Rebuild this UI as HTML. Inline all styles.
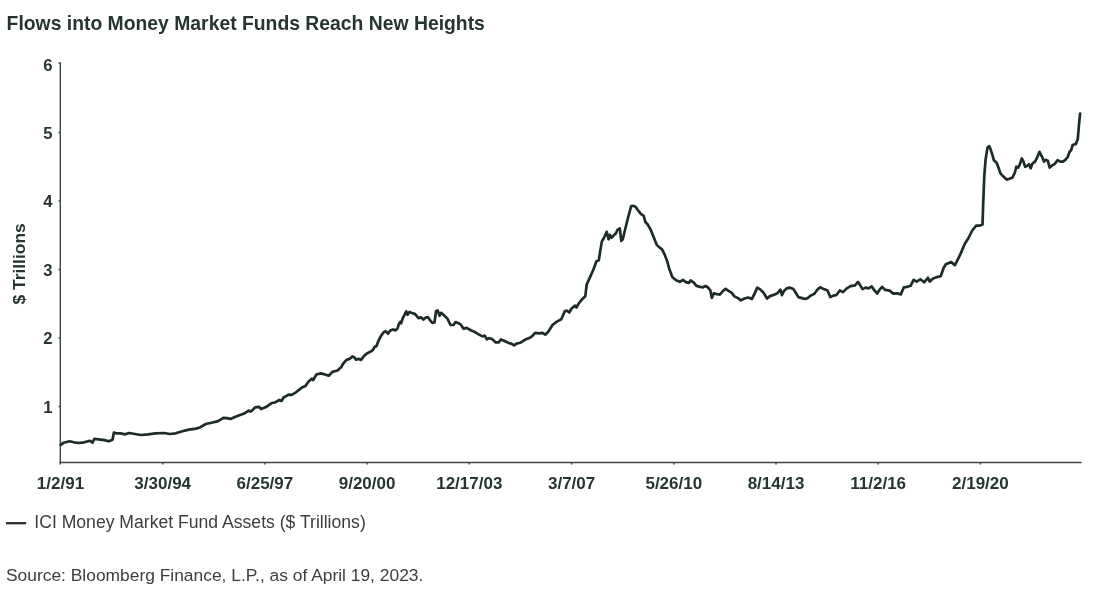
<!DOCTYPE html>
<html><head><meta charset="utf-8"><style>
html,body{margin:0;padding:0;background:#fff;}
body{width:1100px;height:599px;overflow:hidden;position:relative;font-family:"Liberation Sans",Arial,sans-serif;}
svg{position:absolute;left:0;top:0;will-change:transform;}
</style></head><body>
<svg width="1100" height="599" viewBox="0 0 1100 599">
<text x="6.6" y="29.5" font-size="19.35" font-weight="bold" fill="#26352f">Flows into Money Market Funds Reach New Heights</text>
<g font-size="16.6" font-weight="bold" fill="#26352f">
<text x="52.5" y="70.6" text-anchor="end">6</text>
<text x="52.5" y="139.1" text-anchor="end">5</text>
<text x="52.5" y="207.4" text-anchor="end">4</text>
<text x="52.5" y="275.8" text-anchor="end">3</text>
<text x="52.5" y="344.3" text-anchor="end">2</text>
<text x="52.5" y="412.6" text-anchor="end">1</text>
<text x="60.5" y="489.0" text-anchor="middle" font-size="17">1/2/91</text>
<text x="162.7" y="489.0" text-anchor="middle" font-size="17">3/30/94</text>
<text x="264.9" y="489.0" text-anchor="middle" font-size="17">6/25/97</text>
<text x="367.1" y="489.0" text-anchor="middle" font-size="17">9/20/00</text>
<text x="469.3" y="489.0" text-anchor="middle" font-size="17">12/17/03</text>
<text x="571.6" y="489.0" text-anchor="middle" font-size="17">3/7/07</text>
<text x="673.8" y="489.0" text-anchor="middle" font-size="17">5/26/10</text>
<text x="776.0" y="489.0" text-anchor="middle" font-size="17">8/14/13</text>
<text x="878.2" y="489.0" text-anchor="middle" font-size="17">11/2/16</text>
<text x="980.4" y="489.0" text-anchor="middle" font-size="17">2/19/20</text>
</g>
<text transform="translate(25.4,263.9) rotate(-90) scale(1.09,1)" text-anchor="middle" font-size="16" font-weight="bold" fill="#26352f">$ Trillions</text>
<g stroke="#3d4340" stroke-width="1.4" fill="none">
<line x1="60.3" y1="62.5" x2="60.3" y2="464.5"/>
<line x1="59.6" y1="462.5" x2="1081.6" y2="462.5"/>
<line x1="58.5" y1="63.0" x2="60.5" y2="63.0"/>
<line x1="58.5" y1="132.5" x2="60.5" y2="132.5"/>
<line x1="58.5" y1="201.0" x2="60.5" y2="201.0"/>
<line x1="58.5" y1="269.5" x2="60.5" y2="269.5"/>
<line x1="58.5" y1="338.0" x2="60.5" y2="338.0"/>
<line x1="58.5" y1="406.5" x2="60.5" y2="406.5"/>
<line x1="162.7" y1="462.5" x2="162.7" y2="464.5"/>
<line x1="264.9" y1="462.5" x2="264.9" y2="464.5"/>
<line x1="367.1" y1="462.5" x2="367.1" y2="464.5"/>
<line x1="469.3" y1="462.5" x2="469.3" y2="464.5"/>
<line x1="571.6" y1="462.5" x2="571.6" y2="464.5"/>
<line x1="673.8" y1="462.5" x2="673.8" y2="464.5"/>
<line x1="776.0" y1="462.5" x2="776.0" y2="464.5"/>
<line x1="878.2" y1="462.5" x2="878.2" y2="464.5"/>
<line x1="980.4" y1="462.5" x2="980.4" y2="464.5"/>
</g>
<polyline points="60.8,444.9 63.7,442.7 69.5,441.3 73.9,442.3 79,443 84.1,442.3 89.9,440.8 92.5,442.7 94.3,438.8 98.6,439.4 104.5,440.1 108.8,441.3 112.5,439.8 113.9,432.5 116.1,433.3 120.5,433.3 124.8,434.4 129.2,433 135,434 140.8,435 148.1,434.4 155.4,433.3 164.1,433 169.9,434 175.7,433.3 181.5,431.5 188.8,429.6 196.1,428.6 200.5,427.2 205.8,424 211.6,422.8 218.2,421.1 223.3,417.9 226.9,418.2 230.5,418.9 234.9,417 240,415 243.6,413.8 248.7,410.6 250.9,411.6 255.3,407.3 258.9,406.8 261.1,409 265.5,407.3 271.3,403.3 275.6,402.2 279.3,400 281.5,401 283.6,397.5 288.7,394.6 291.6,394.9 296,392.3 301.8,387.6 305.5,385.9 308.4,381.8 312,378.6 313.2,380 316.4,374.5 320.7,373.4 325.1,374.5 328.7,375.7 332.4,371.9 337.5,370.5 341.1,367.3 342.9,364 346.5,359.9 349.5,358.9 352.4,356.4 354.5,357.5 356,359.6 358.9,358.9 361.1,359.9 364,356 366.9,353.5 370.5,351.6 372.7,350.2 374.9,346.5 376.4,346.3 378.5,340.7 380.7,336.4 383.6,332.3 385.8,331.3 388,333.7 390.2,330.5 393.1,329.4 395.3,330.5 397.5,328.4 398.9,324 400.4,321.8 401.1,323.3 402.5,318.9 406.2,311.3 407.6,314.8 409.5,311.9 412.7,313.4 414.9,313.8 418.5,318.2 420.7,317.2 423.6,319.6 425.8,317.5 428,317.2 430.2,320.4 432.4,323 434.5,322.5 436,311.3 437.7,310.5 439.6,315.7 441.1,312.8 444,315.3 447.6,318.9 450.5,325 453.5,325 455.6,322.1 458.5,323.3 460.7,324.4 463.6,328.8 466.5,327.9 470.9,330.3 475.3,332.3 479.6,334.9 482.5,336.4 484.7,335.6 486.9,339.3 489.1,338.1 492,339 495.8,342.4 498.7,342.4 500.9,339.5 504.5,341 508.9,343 511.8,343.9 514,345.3 516.9,343.5 520.5,342.7 524.9,339.8 529.3,338.1 532.2,336.2 535.1,332.8 539.5,333.3 542.4,332.8 545.3,334.7 548.2,331.8 552.5,325 556.9,321.6 561.3,319.2 564.9,311 567.1,310.7 569.3,312.5 571.5,308.5 575.1,305.6 576.5,307.5 578.7,303.5 581.6,299.8 585.3,296.2 586.7,284.5 590.5,276.1 593.5,269.3 596.5,261.1 598.8,260.3 600.3,250.6 601.8,241.6 604,237.8 606.7,231.8 608.5,239.3 609.7,234.8 611.5,237.8 613.8,235.3 616,233.3 617.5,229.8 619.8,228.3 621.3,240.8 622.8,239.3 625.1,229.5 628.1,217.5 631.1,206.3 632.6,205.8 635.6,206.7 637.8,210 640.8,213.8 643.8,216 645.3,222 647.6,224.3 650.6,229.5 653.6,237.1 656.6,244.6 659.6,247.6 661.9,249.1 664.9,255.1 667.1,261.1 669.4,269.3 672.4,277.3 676.1,280.3 679.9,281.8 682.9,279.9 685.9,282.1 688.9,282.9 690.7,280.4 693.6,282.5 696.5,285.9 700.2,286.9 703.1,287.3 705.3,285.9 707.5,286.9 710.4,290.5 711.8,297.8 714,293.2 716.9,294.2 719.8,294.6 722.7,291.3 725.6,288.8 728.5,290.8 731.5,292.7 734.4,296.4 738,298.1 740.9,300.4 744.5,298.5 748.2,297.5 751.8,299 754.7,293.5 757.2,287.6 759.8,289.1 763.5,292.7 767.1,298.5 770,296.1 773.6,294.9 777.3,293.2 780.5,289.8 781.9,295.2 783.8,291.3 786.7,288.4 789.6,287.6 793.3,289.1 796.2,293.5 798.4,297.1 802,298.1 804.9,299 807.8,298.1 810.7,295.6 814.4,293.7 817.3,289.8 820.2,287.3 823.8,289.1 827.5,290.5 830.4,297.1 833.3,295.6 836.2,295.2 839.8,290.5 843,292.1 846.8,288.4 850.5,286.1 855,285.4 858,281.9 860.3,285.4 862.5,289.1 865.5,287.6 868.5,288.4 871.6,286.4 874.6,290.6 877.3,293.6 879.4,289.9 882.1,286.9 885.1,289.9 889.6,290.6 893.3,293.6 897.1,293.3 900.8,294.4 903.9,287.3 906.9,286.9 910.6,285.8 913.6,279.8 916.6,281.6 920.4,279.3 924.1,282.3 927.9,277.8 929.8,281.6 933.1,278.6 936.9,277.1 940.7,276.3 943.7,267.8 945.9,264.3 951.2,262.1 954.9,265.1 957.2,260.6 960.2,254.6 964.7,244 968.5,238 972.2,230.5 976.2,225.7 980,225.6 982.5,224.6 983.2,203.5 984.3,175.9 985.6,159.4 987.5,147.5 989.3,146.2 990.6,149.3 992.4,154.8 993.9,160.3 996.6,162.7 998.5,167.7 1000.3,173.2 1003.1,176.3 1006.7,179.6 1009.5,178.7 1012.6,177.4 1015,172.3 1016.3,166.7 1018.1,167.7 1019.6,164.9 1021.8,158.5 1023.3,161.2 1025.2,166.9 1027.7,165.5 1029,164.3 1030.7,168.2 1032.3,163.8 1035,161.6 1037.3,157.1 1039.5,151.8 1041.8,156.3 1044,161.6 1045.5,159.8 1047.8,160.8 1049.7,167.6 1052.3,165.3 1054.9,163.8 1057.6,160.1 1060.3,161.6 1062.8,161.6 1065.1,160.1 1067.8,156.8 1069.6,151.8 1071.1,150.3 1072.6,145.1 1075.9,143.9 1077.8,139.1 1078.9,125.5 1080.1,113.5" fill="none" stroke="#1d2c26" stroke-width="2.7" stroke-linejoin="round" stroke-linecap="round"/>
<line x1="6" y1="523.2" x2="26.2" y2="523.2" stroke="#2a302d" stroke-width="2.3"/>
<text x="34.3" y="528.4" font-size="17.6" fill="#3a3f3c">ICI Money Market Fund Assets ($ Trillions)</text>
<text x="6" y="580.5" font-size="17.4" fill="#3a3f3c">Source: Bloomberg Finance, L.P., as of April 19, 2023.</text>
</svg>
</body></html>
